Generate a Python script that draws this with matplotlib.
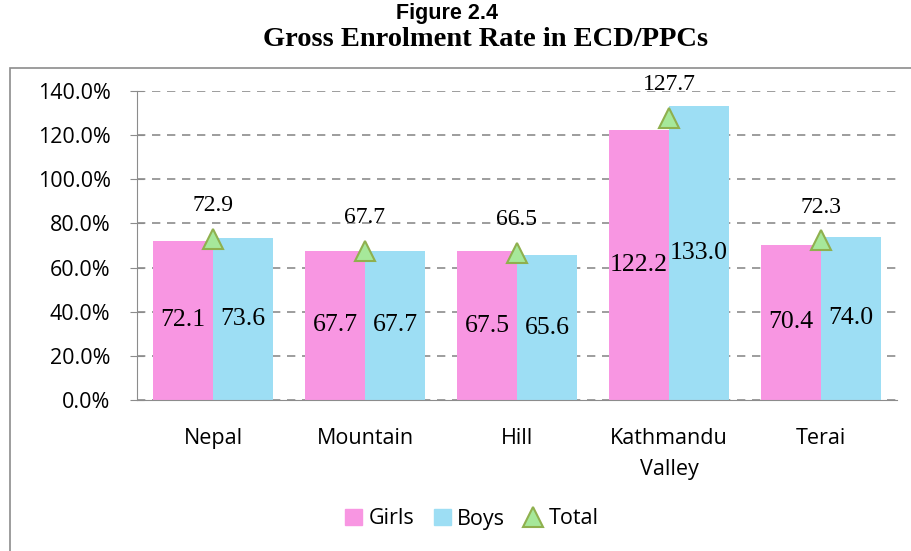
import matplotlib.pyplot as plt
import matplotlib.patches as mpatches
from matplotlib.lines import Line2D
import numpy as np

categories = ['Nepal', 'Mountain', 'Hill', 'Kathmandu\nValley', 'Terai']
girls = [72.1, 67.7, 67.5, 122.2, 70.4]
boys = [73.6, 67.7, 65.6, 133.0, 74.0]
total = [72.9, 67.7, 66.5, 127.7, 72.3]

pink = '#F896E2'
blue = '#9DDEF4'
green = '#A6E89A'
green_edge = '#8FB04E'

fig = plt.figure(figsize=(9.12, 5.51), dpi=100)
# outer chart frame
fig.patches.append(mpatches.Rectangle((10/912, -0.01), 1.0, 1 - 68/551 + 0.01,
                                      transform=fig.transFigure, fill=False,
                                      edgecolor='#8C8C8C', linewidth=1.2))

ax = fig.add_axes([137/912, 1 - 400/551, 760/912, 309/551])
x = np.arange(len(categories))
w = 0.395
ax.bar(x - w/2, girls, w, color=pink, zorder=2)
ax.bar(x + w/2, boys, w, color=blue, zorder=2)
ax.plot(x, total, linestyle='none', marker='^', markersize=15,
        markerfacecolor=green, markeredgecolor=green_edge, markeredgewidth=1.5, zorder=4)

for i in range(len(categories)):
    ax.text(x[i] - w/2, girls[i]/2, f'{girls[i]:.1f}', ha='center', va='center',
            family='Liberation Serif', fontsize=18.5, zorder=5)
    ax.text(x[i] + w/2, boys[i]/2, f'{boys[i]:.1f}', ha='center', va='center',
            family='Liberation Serif', fontsize=18.5, zorder=5)
    ax.annotate(f'{total[i]:.1f}', (x[i], total[i]), xytext=(0, 24),
                textcoords='offset points', ha='center', va='center',
                family='Liberation Serif', fontsize=17, zorder=5)

ax.set_xlim(-0.5, len(categories) - 0.5)
ax.set_ylim(0, 140)
ax.set_yticks(np.arange(0, 141, 20))
ax.set_yticklabels([f'{v:.1f}%' for v in range(0, 141, 20)], family='Open Sans', fontsize=15.5)
ax.set_xticks(x)
ax.set_xticklabels(categories, family='Open Sans', fontsize=15.5, linespacing=1.65)
ax.tick_params(axis='x', length=0, pad=20)
ax.tick_params(axis='y', direction='inout', length=10, color='#8C8C8C', pad=14)
ax.grid(axis='y', color='#8C8C8C', linestyle=(0, (5, 4)), linewidth=1.2, zorder=0)
for s in ['top', 'right']:
    ax.spines[s].set_visible(False)
ax.spines['left'].set_color('#8C8C8C')
ax.spines['bottom'].set_color('#8C8C8C')

fig.text(0.490, 1 - 14/551, 'Figure 2.4', ha='center', va='center',
         family='Liberation Sans', weight='bold', fontsize=15.5)
fig.text(0.532, 1 - 40/551, 'Gross Enrolment Rate in ECD/PPCs', ha='center', va='center',
         family='Liberation Serif', weight='bold', fontsize=20.5)

handles = [mpatches.Patch(color=pink, label='Girls'),
           mpatches.Patch(color=blue, label='Boys'),
           Line2D([], [], linestyle='none', marker='^', markersize=14,
                  markerfacecolor=green, markeredgecolor=green_edge,
                  markeredgewidth=1.5, label='Total')]
fig.legend(handles=handles, loc='center', bbox_to_anchor=(0.517, 1 - 519/551), ncol=3,
           frameon=False, prop={'family': 'Open Sans', 'size': 15.5},
           handlelength=0.8, handleheight=0.8, handletextpad=0.3, columnspacing=0.9)

fig.savefig('out.png', dpi=100)
